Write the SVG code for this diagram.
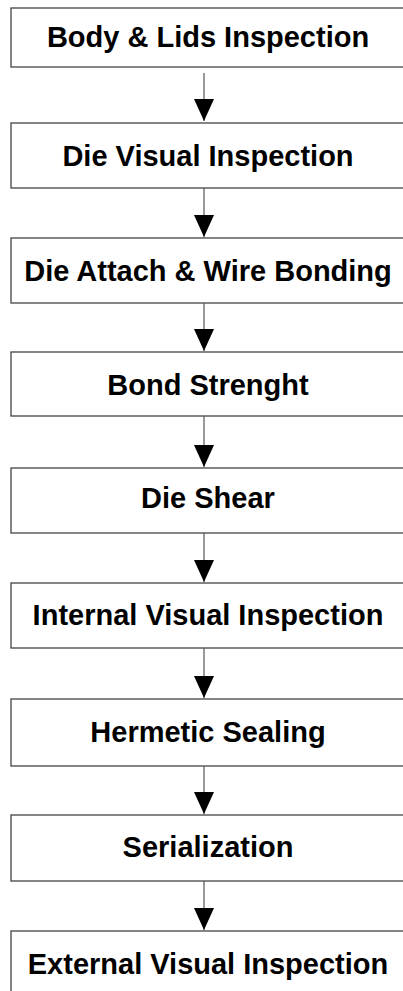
<svg xmlns="http://www.w3.org/2000/svg" width="403" height="991" viewBox="0 0 403 991">
<style>
.box{fill:#fff;stroke:#444;stroke-width:1.3}
.lbl{font-family:"Liberation Sans",Arial,sans-serif;font-weight:bold;font-size:29px;fill:#000;text-anchor:middle}
.con{stroke:#555;stroke-width:1.2;fill:none}
</style>
<defs>
<marker id="ah" markerWidth="22" markerHeight="20" refX="22" refY="10" orient="auto" markerUnits="userSpaceOnUse">
<path d="M0,0 L22,10 L0,20 Z" fill="#000"/>
</marker>
</defs>
<rect x="0" y="0" width="403" height="991" fill="#fff"/>
<g id="n1"><rect class="box" x="11" y="8" width="400" height="59"/><text class="lbl" x="208" y="47">Body &amp; Lids Inspection</text></g>
<g id="n2"><rect class="box" x="11" y="123" width="400" height="65"/><text class="lbl" x="208" y="166">Die Visual Inspection</text></g>
<g id="n3"><rect class="box" x="11" y="238" width="400" height="65"/><text class="lbl" x="208" y="281">Die Attach &amp; Wire Bonding</text></g>
<g id="n4"><rect class="box" x="11" y="352" width="400" height="64"/><text class="lbl" x="208" y="395">Bond Strenght</text></g>
<g id="n5"><rect class="box" x="11" y="468" width="400" height="65"/><text class="lbl" x="208" y="508">Die Shear</text></g>
<g id="n6"><rect class="box" x="11" y="583" width="400" height="65"/><text class="lbl" x="208" y="625">Internal Visual Inspection</text></g>
<g id="n7"><rect class="box" x="11" y="699" width="400" height="67"/><text class="lbl" x="208" y="742">Hermetic Sealing</text></g>
<g id="n8"><rect class="box" x="11" y="815" width="400" height="66"/><text class="lbl" x="208" y="857">Serialization</text></g>
<g id="n9"><rect class="box" x="11" y="931" width="400" height="70"/><text class="lbl" x="208" y="974">External Visual Inspection</text></g>
<g id="connectors">
<line class="con" x1="204" y1="73" x2="204" y2="121" marker-end="url(#ah)"/>
<line class="con" x1="204" y1="188" x2="204" y2="237" marker-end="url(#ah)"/>
<line class="con" x1="204" y1="303" x2="204" y2="351" marker-end="url(#ah)"/>
<line class="con" x1="204" y1="416" x2="204" y2="467" marker-end="url(#ah)"/>
<line class="con" x1="204" y1="533" x2="204" y2="582" marker-end="url(#ah)"/>
<line class="con" x1="204" y1="648" x2="204" y2="698" marker-end="url(#ah)"/>
<line class="con" x1="204" y1="766" x2="204" y2="814" marker-end="url(#ah)"/>
<line class="con" x1="204" y1="881" x2="204" y2="930" marker-end="url(#ah)"/>
</g>
</svg>
